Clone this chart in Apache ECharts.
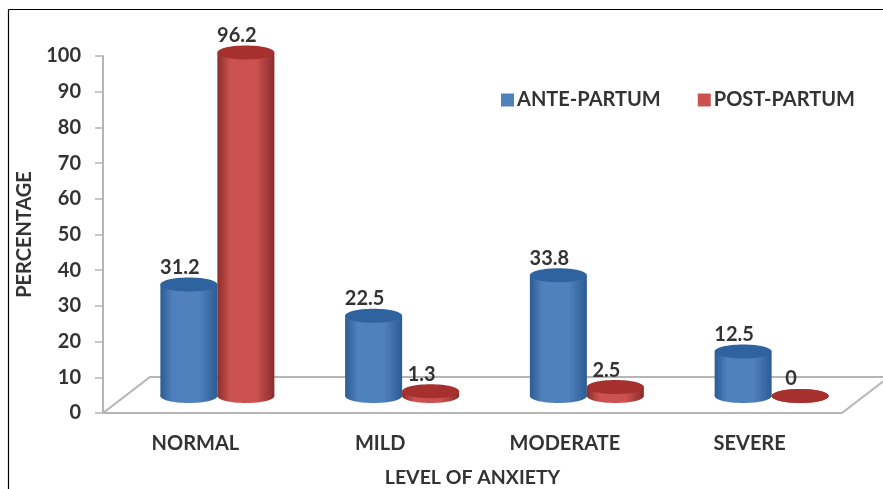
<!DOCTYPE html>
<html>
<head>
<meta charset="utf-8">
<style>html,body{margin:0;padding:0;background:#fff}#chart{width:883px;height:489px}</style>
<script src="https://cdn.jsdelivr.net/npm/echarts@6/dist/echarts.min.js"></script>
</head>
<body>
<div id="chart"></div>
<script>
// Anxiety levels before and after childbirth, percentage of respondents
const categories = ['NORMAL', 'MILD', 'MODERATE', 'SEVERE'];
const antePartum = [31.2, 22.5, 33.8, 12.5];
const postPartum = [96.2, 1.3, 2.5, 0];

const FONT = 'Lato, "Open Sans", sans-serif';
const TEXT = '#333333';
const DEPTH_X = 47, DEPTH_Y = 36;   // receding floor offset
const BAR_RX = 28.5, BAR_RY = 7;    // cylinder footprint
const SHIFT_X = 22, SHIFT_Y = 17;   // cylinders stand mid-way across the floor

function sideGradient(edge, mid) {
  return { type: 'linear', x: 0, y: 0, x2: 1, y2: 0, colorStops: [
    { offset: 0, color: edge }, { offset: 0.22, color: mid },
    { offset: 0.68, color: mid }, { offset: 1, color: edge }
  ]};
}

function cylinderSeries(name, values, side, colors, top) {
  return {
    name, type: 'custom', coordinateSystem: 'cartesian2d', clip: false,
    itemStyle: { color: colors[1] },
    data: values.map((v, i) => [i, v]),
    renderItem(params, api) {
      const base = api.coord([api.value(0), 0]);
      const tip = api.coord([api.value(0), api.value(1)]);
      const cx = base[0] + SHIFT_X + side * BAR_RX;
      const y0 = base[1] - SHIFT_Y;
      const y1 = tip[1] - SHIFT_Y;
      const fill = sideGradient(colors[0], colors[1]);
      return { type: 'group', children: [
        { type: 'ellipse', shape: { cx, cy: y0, rx: BAR_RX, ry: BAR_RY }, style: { fill } },
        { type: 'rect', shape: { x: cx - BAR_RX, y: y1, width: BAR_RX * 2, height: y0 - y1 }, style: { fill } },
        { type: 'ellipse', shape: { cx, cy: y1, rx: BAR_RX, ry: BAR_RY }, style: { fill: top } },
        { type: 'text', z2: 10, style: {
          x: cx - 9, y: y1 - 17, text: String(api.value(1)), align: 'center', verticalAlign: 'middle',
          font: 'bold 20px ' + FONT, fill: TEXT
        } }
      ]};
    }
  };
}

const floorSeries = {
  type: 'custom', coordinateSystem: 'cartesian2d', clip: false, silent: true, z: 1,
  data: [[0, 0]],
  renderItem(params) {
    const g = params.coordSys;
    const left = g.x, right = g.x + g.width, y = g.y + g.height;
    return { type: 'polyline', shape: { points: [
      [left, y], [left + DEPTH_X, y - DEPTH_Y], [right + DEPTH_X, y - DEPTH_Y], [right, y]
    ] }, style: { stroke: '#b5b5b5', lineWidth: 2, fill: 'none' } };
  }
};

const chart = echarts.init(document.getElementById('chart'), null, { renderer: 'canvas' });
chart.setOption({
  animation: false,
  backgroundColor: '#fff',
  grid: { left: 103, right: 41, top: 56, bottom: 76, outerBoundsMode: 'none' },
  legend: {
    data: ['ANTE-PARTUM', 'POST-PARTUM'], left: 496, top: 85,
    icon: 'rect', itemWidth: 13, itemHeight: 13, itemGap: 37, selectedMode: false,
    textStyle: { fontFamily: FONT, fontWeight: 'bold', fontSize: 20, color: TEXT, padding: [0, 0, 0, -2] }
  },
  xAxis: {
    type: 'category', data: categories,
    name: 'LEVEL OF ANXIETY', nameLocation: 'middle', nameGap: 55,
    nameTextStyle: { fontFamily: FONT, fontWeight: 'bold', fontSize: 19.5, color: TEXT },
    axisLine: { lineStyle: { color: '#b5b5b5', width: 2 } },
    axisTick: { show: false },
    axisLabel: { margin: 21, fontFamily: FONT, fontWeight: 'bold', fontSize: 20, color: TEXT }
  },
  yAxis: {
    type: 'value', min: 0, max: 100, interval: 10,
    name: 'PERCENTAGE', nameLocation: 'middle', nameGap: 68,
    nameTextStyle: { fontFamily: FONT, fontWeight: 'bold', fontSize: 20, color: TEXT },
    axisLine: { show: true, lineStyle: { color: '#b5b5b5', width: 2 } },
    axisTick: { show: true, length: 8, lineStyle: { color: '#b5b5b5', width: 1.5 } },
    axisLabel: { margin: 22, fontFamily: FONT, fontWeight: 'bold', fontSize: 20, color: TEXT },
    splitLine: { show: false }
  },
  series: [
    floorSeries,
    cylinderSeries('ANTE-PARTUM', antePartum, -1, ['#2c5c94', '#4f81bd'], '#2f639f'),
    cylinderSeries('POST-PARTUM', postPartum, 1, ['#8a2d2b', '#cb5250'], '#a5302e')
  ],
  graphic: [
    { type: 'line', shape: { x1: 8.5, y1: 9.5, x2: 883, y2: 9.5 }, style: { stroke: '#000', lineWidth: 1.2 } },
    { type: 'line', shape: { x1: 8.5, y1: 9.5, x2: 8.5, y2: 489 }, style: { stroke: '#000', lineWidth: 1.2 } }
  ]
});
</script>
</body>
</html>
